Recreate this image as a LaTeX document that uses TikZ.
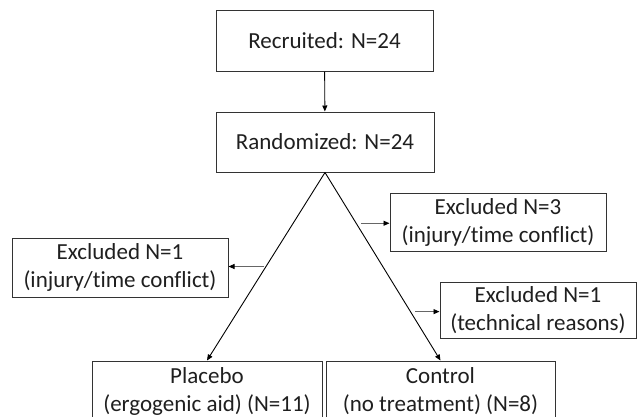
\documentclass[tikz,border=0pt]{standalone}
\usepackage{fontspec}
\setmainfont[Ligatures={NoCommon,NoRare,NoDiscretionary}]{Carlito}
\usetikzlibrary{arrows.meta}
\begin{document}
\begin{tikzpicture}[x=1pt,y=-1pt,
  box/.style={draw=black!80, line width=1pt, align=center, inner sep=0pt,
    font=\fontsize{23}{28}\selectfont, text=black!88},
  conn/.style={line width=0.9pt, -{Triangle[length=6pt,width=5pt]}},
  side/.style={draw=black!60, line width=0.9pt, -{Triangle[length=6pt,width=5pt,fill=black,color=black]}}]
\clip (0,0) rectangle (638,416);
\useasboundingbox (0,0) rectangle (638,416);
\node[box, minimum width=217pt, minimum height=61pt] (rec) at (324.5,40.5) {Recruited: N=24};
\node[box, minimum width=218pt, minimum height=60pt] (rand) at (325,142) {Randomized: N=24};
\node[box, minimum width=230pt, minimum height=60pt] (plac) at (207,391) {Placebo\\(ergogenic aid) (N=11)};
\node[box, minimum width=229pt, minimum height=60pt] (ctrl) at (440.5,391) {Control\\(no treatment) (N=8)};
\node[box, minimum width=216pt, minimum height=59pt] (exl) at (120,267.5) {Excluded N=1\\(injury/time conflict)};
\node[box, minimum width=216pt, minimum height=58pt] (exr) at (498,222) {Excluded N=3\\(injury/time conflict)};
\node[box, minimum width=196pt, minimum height=56pt] (ext) at (538,310) {Excluded N=1\\(technical reasons)};
\draw[conn] (rec) -- (rand);
\draw[conn] (rand.south) -- (plac.north) coordinate[pos=0.5] (l1);
\draw[conn] (rand.south) -- (ctrl.north) coordinate[pos=0.27] (r1) coordinate[pos=0.74] (r2);
\coordinate (r1s) at ([xshift=5pt]r1);
\coordinate (r2s) at ([xshift=5pt]r2);
\coordinate (l1s) at ([xshift=-2pt]l1);
\draw[side] (l1s) -- (l1s -| exl.east);
\draw[side] (r1s) -- (r1s -| exr.west);
\draw[side] (r2s) -- (r2s -| ext.west);
\end{tikzpicture}
\end{document}
